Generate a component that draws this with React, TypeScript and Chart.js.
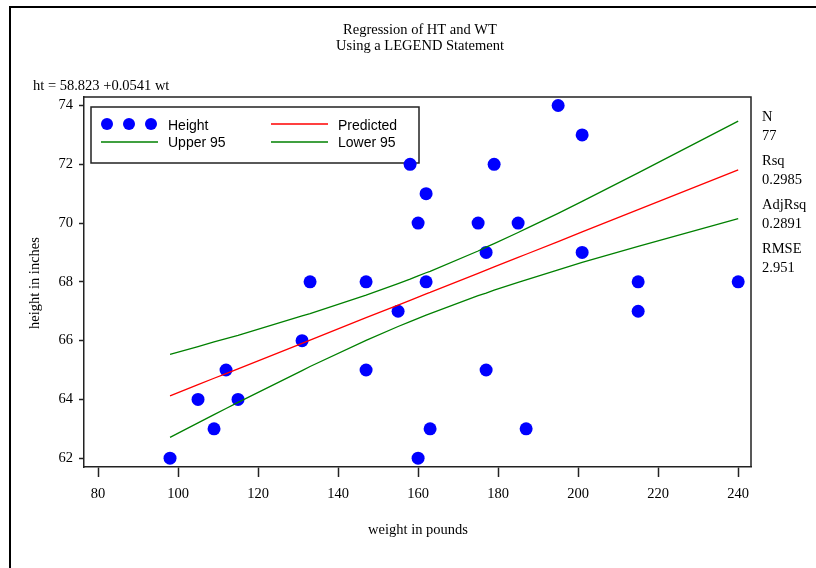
import React, { useEffect, useRef } from 'react';
import { Chart, registerables } from 'chart.js';

Chart.register(...registerables);

// ---- data ----
const weightObs = [98, 105, 109, 112, 115, 131, 133, 147, 147, 155, 158, 160, 160, 162, 162, 163, 175, 177, 177, 179, 185, 187, 195, 201, 201, 215, 215, 240];
const heightObs = [62, 64, 63, 65, 64, 66, 68, 68, 65, 67, 72, 70, 62, 71, 68, 63, 70, 69, 65, 72, 70, 63, 74, 73, 69, 68, 67, 68];

const fitWeights = [98, 105, 109, 112, 115, 131, 133, 147, 155, 158, 160, 162, 163, 175, 177, 179, 185, 187, 195, 201, 215, 240];
const predicted = [64.12, 64.5, 64.72, 64.88, 65.04, 65.91, 66.02, 66.78, 67.21, 67.37, 67.48, 67.59, 67.64, 68.29, 68.4, 68.51, 68.83, 68.94, 69.37, 69.7, 70.46, 71.81];
const upper95 = [65.53, 65.8, 65.96, 66.07, 66.18, 66.84, 66.92, 67.55, 67.94, 68.09, 68.2, 68.31, 68.36, 69.05, 69.18, 69.3, 69.68, 69.81, 70.33, 70.74, 71.71, 73.47];
const lower95 = [62.71, 63.2, 63.48, 63.69, 63.9, 64.98, 65.12, 66.01, 66.48, 66.65, 66.76, 66.87, 66.92, 67.53, 67.62, 67.72, 67.98, 68.07, 68.41, 68.66, 69.21, 70.15];

const xTicks = [80, 100, 120, 140, 160, 180, 200, 220, 240];
const yTicks = [62, 64, 66, 68, 70, 72, 74];

const titleLines = ['Regression of HT and WT', 'Using a LEGEND Statement'];
const equationText = 'ht = 58.823 +0.0541 wt';
const statLabels = ['N', 'Rsq', 'AdjRsq', 'RMSE'];
const statValues = ['77', '0.2985', '0.2891', '2.951'];
const xTitle = 'weight in pounds';
const yTitle = 'height in inches';
const legendLabels = ['Height', 'Predicted', 'Upper 95', 'Lower 95'];

const BLUE = '#0000FF';
const RED = '#FF0000';
const GREEN = '#008000';
const SERIF = '"Liberation Serif", "DejaVu Serif", serif';
const SANS = '"Liberation Sans", Arial, sans-serif';

const decorPlugin = {
  id: 'decor',
  beforeDatasetsDraw(chart: any) {
    const ctx = chart.ctx as CanvasRenderingContext2D;
    ctx.save();
    // legend (drawn under the data marks)
    ctx.fillStyle = '#fff';
    ctx.fillRect(91, 107, 328, 56);
    ctx.strokeStyle = '#222';
    ctx.lineWidth = 1.5;
    ctx.strokeRect(91, 107, 328, 56);
    ctx.fillStyle = BLUE;
    [107, 129, 151].forEach((cx) => {
      ctx.beginPath();
      ctx.arc(cx, 124, 6, 0, Math.PI * 2);
      ctx.fill();
    });
    ctx.lineWidth = 1.3;
    const seg = (x1: number, x2: number, y: number, c: string) => {
      ctx.strokeStyle = c;
      ctx.beginPath();
      ctx.moveTo(x1, y);
      ctx.lineTo(x2, y);
      ctx.stroke();
    };
    seg(271, 328, 124, RED);
    seg(101, 158, 142, GREEN);
    seg(271, 328, 142, GREEN);
    ctx.fillStyle = '#000';
    ctx.font = `14px ${SANS}`;
    ctx.textAlign = 'left';
    ctx.textBaseline = 'middle';
    ctx.fillText(legendLabels[0], 168, 126);
    ctx.fillText(legendLabels[1], 338, 126);
    ctx.fillText(legendLabels[2], 168, 143);
    ctx.fillText(legendLabels[3], 338, 143);
    ctx.restore();
  },
  afterDraw(chart: any) {
    const ctx = chart.ctx as CanvasRenderingContext2D;
    const a = chart.chartArea;
    ctx.save();
    // outer frame (left + top)
    ctx.fillStyle = '#000';
    ctx.fillRect(9, 6, 2, 562);
    ctx.fillRect(9, 6, 807, 2);
    // plot frame top & right
    ctx.strokeStyle = '#222';
    ctx.lineWidth = 1.5;
    ctx.beginPath();
    ctx.moveTo(a.left, a.top);
    ctx.lineTo(a.right, a.top);
    ctx.lineTo(a.right, a.bottom);
    ctx.stroke();

    // titles
    ctx.fillStyle = '#000';
    ctx.font = `14.5px ${SERIF}`;
    ctx.textAlign = 'center';
    ctx.textBaseline = 'middle';
    ctx.fillText(titleLines[0], 420, 30);
    ctx.fillText(titleLines[1], 420, 46);

    // equation
    ctx.textAlign = 'left';
    ctx.fillText(equationText, 33, 86);

    // stats
    for (let i = 0; i < statLabels.length; i++) {
      ctx.fillText(statLabels[i], 762, 117 + i * 44);
      ctx.fillText(statValues[i], 762, 136 + i * 44);
    }

    // axis titles
    ctx.textAlign = 'center';
    ctx.fillText(xTitle, 418, 530);
    ctx.save();
    ctx.translate(35, 283);
    ctx.rotate(-Math.PI / 2);
    ctx.fillText(yTitle, 0, 0);
    ctx.restore();
    ctx.restore();
  },
};

export default function App() {
  const ref = useRef<HTMLCanvasElement>(null);
  useEffect(() => {
    if (!ref.current) return;
    const pts = weightObs.map((x, i) => ({ x, y: heightObs[i] }));
    const line = (ys: number[]) => fitWeights.map((x, i) => ({ x, y: ys[i] }));
    const chart = new Chart(ref.current, {
      type: 'scatter',
      data: {
        datasets: [
          { label: 'Predicted', data: line(predicted), showLine: true, borderColor: RED, borderWidth: 1.3, pointRadius: 0, order: 0 } as any,
          { label: 'Upper 95', data: line(upper95), showLine: true, borderColor: GREEN, borderWidth: 1.3, pointRadius: 0, order: 0 } as any,
          { label: 'Lower 95', data: line(lower95), showLine: true, borderColor: GREEN, borderWidth: 1.3, pointRadius: 0, order: 0 } as any,
          { label: 'Height', data: pts, backgroundColor: BLUE, borderColor: BLUE, pointRadius: 6.5, borderWidth: 0, order: 1 } as any,
        ],
      },
      options: {
        responsive: false,
        animation: false,
        layout: { padding: { left: 0, right: 65, top: 97, bottom: 0 } },
        plugins: { legend: { display: false }, title: { display: false }, tooltip: { enabled: false } },
        scales: {
          x: {
            type: 'linear',
            min: 76.5,
            max: 243.2,
            afterBuildTicks: (s: any) => { s.ticks = xTicks.map((v) => ({ value: v })); },
            afterFit: (s: any) => { s.height = 101; },
            grid: { drawOnChartArea: false, drawTicks: true, tickLength: 10, tickColor: '#222', tickWidth: 1.5 },
            border: { display: true, color: '#222', width: 1.5 },
            ticks: { color: '#000', font: { family: SERIF, size: 14.5 }, padding: 8, maxRotation: 0, autoSkip: false },
          },
          y: {
            type: 'linear',
            min: 61.7,
            max: 74.29,
            afterBuildTicks: (s: any) => { s.ticks = yTicks.map((v) => ({ value: v })); },
            afterFit: (s: any) => { s.width = 84; },
            grid: { drawOnChartArea: false, drawTicks: true, tickLength: 5, tickColor: '#222', tickWidth: 1.5 },
            border: { display: true, color: '#222', width: 1.5 },
            ticks: { color: '#000', font: { family: SERIF, size: 14.5 }, padding: 6, autoSkip: false },
          },
        },
      } as any,
      plugins: [decorPlugin],
    });
    return () => chart.destroy();
  }, []);
  return (
    <div style={{ position: 'absolute', left: 0, top: 0, width: 816, height: 568, background: '#fff' }}>
      <canvas ref={ref} width={816} height={568} style={{ width: 816, height: 568 }} />
    </div>
  );
}
